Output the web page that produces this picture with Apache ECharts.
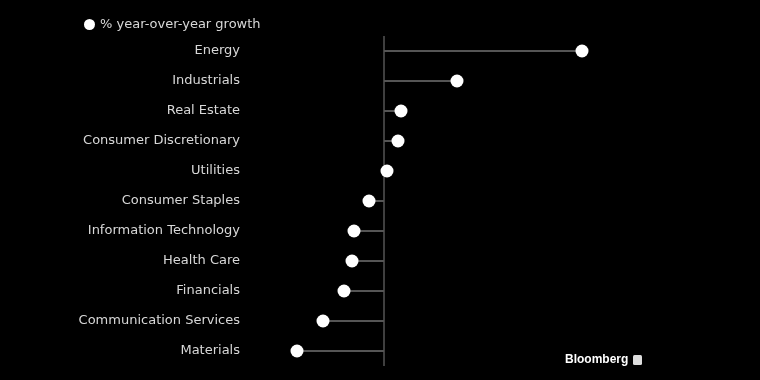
<!DOCTYPE html>
<html><head><meta charset="utf-8">
<script src="https://cdn.jsdelivr.net/npm/echarts@6/dist/echarts.min.js"></script>
<style>html,body{margin:0;padding:0;background:#000}#c{width:760px;height:380px}</style>
</head><body><div id="c"></div>
<script>
const categories = ["Energy","Industrials","Real Estate","Consumer Discretionary","Utilities","Consumer Staples","Information Technology","Health Care","Financials","Communication Services","Materials"];
const growth = [79.2, 29.2, 6.8, 5.6, 1.2, -6.0, -12.0, -12.8, -16.0, -24.4, -34.8];
const seriesName = "% year-over-year growth";

const chart = echarts.init(document.getElementById('c'), null, {renderer:'canvas'});
const FONT = 'DejaVu Sans';
chart.setOption({
  backgroundColor: '#000',
  animation: false,
  legend: {
    data: [seriesName], left: 79, top: 13, itemWidth: 11, itemHeight: 11, itemGap: 4,
    icon: 'circle',
    itemStyle: {color: '#fff', opacity: 1},
    textStyle: {color: '#d8d8d8', fontFamily: FONT, fontSize: 13}
  },
  grid: {left: 284, top: 36, width: 325, height: 330, containLabel: false},
  xAxis: {type: 'value', min: -40, max: 90, show: false, splitLine: {show: false}},
  yAxis: {
    type: 'category', data: categories, inverse: true,
    axisLine: {show: false}, axisTick: {show: false},
    axisLabel: {color: '#d8d8d8', fontFamily: FONT, fontSize: 13, margin: 44, padding: [3, 0, 0, 0]}
  },
  series: [
    {type: 'bar', data: growth, barWidth: 2, itemStyle: {color: '#555'}, silent: true,
     markLine: {silent: true, symbol: 'none', label: {show: false},
       lineStyle: {color: '#555', width: 1.5, type: 'solid'}, data: [{xAxis: 0}]}},
    {type: 'scatter', name: seriesName, data: growth, symbolSize: 13,
     itemStyle: {color: '#fff', opacity: 1}, z: 5}
  ],
  graphic: [
    {type: 'text', left: 565, top: 354, style: {text: 'Bloomberg', fill: '#fff', font: 'bold 12px Liberation Sans'}},
    {type: 'rect', left: 633, top: 355, shape: {width: 9, height: 10, r: 1.5}, style: {fill: '#ddd'}}
  ]
});
</script></body></html>
